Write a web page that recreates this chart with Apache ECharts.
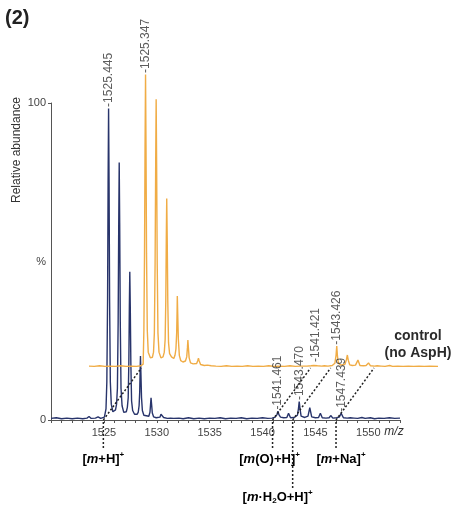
<!DOCTYPE html>
<html>
<head>
<meta charset="utf-8">
<script src="https://cdn.jsdelivr.net/npm/echarts@6/dist/echarts.min.js"></script>
<style>
  html, body { margin: 0; padding: 0; background: #fff; }
  #chart { width: 453px; height: 508px; }
</style>
</head>
<body>
<div id="chart"></div>
<script>
// Sample spectrum (AspH treated): [m/z, relative abundance %]
const sampleTrace = [
  [1520.0, 0.5], [1520.5, 0.7], [1521.0, 0.4], [1521.5, 0.6], [1522.0, 0.4], [1522.5, 0.6],
  [1523.0, 0.4], [1523.4, 0.6], [1523.6, 1.1], [1523.8, 0.5], [1524.2, 0.6], [1524.45, 1.0],
  [1524.7, 0.5], [1525.05, 0.9],
  [1525.2, 3.5], [1525.28, 12], [1525.35, 38], [1525.40, 75], [1525.445, 98.3], [1525.49, 75],
  [1525.54, 38], [1525.61, 12], [1525.7, 5], [1525.85, 2.6],
  [1526.1, 3.2], [1526.2, 5], [1526.28, 10], [1526.35, 31], [1526.405, 62], [1526.45, 81.2],
  [1526.495, 62], [1526.55, 31], [1526.62, 10], [1526.72, 4.5], [1526.88, 2.4],
  [1527.12, 2.6], [1527.22, 4], [1527.3, 7], [1527.36, 18], [1527.41, 36], [1527.45, 46.8],
  [1527.495, 36], [1527.55, 18], [1527.62, 6], [1527.72, 3], [1527.9, 1.8],
  [1528.15, 1.8], [1528.25, 2.5], [1528.33, 4.5], [1528.39, 9], [1528.43, 16], [1528.46, 20.2],
  [1528.5, 15], [1528.56, 7], [1528.64, 3], [1528.78, 1.5], [1528.95, 1.0],
  [1529.25, 1.2], [1529.36, 2.5], [1529.42, 5.2], [1529.46, 7.0], [1529.51, 5], [1529.58, 2.2],
  [1529.7, 1.0], [1529.95, 0.7],
  [1530.3, 0.9], [1530.4, 1.8], [1530.46, 2.4], [1530.53, 1.6], [1530.65, 0.8], [1531.0, 0.5],
  [1531.3, 0.6], [1531.46, 1.0], [1531.6, 0.5], [1532.1, 0.6], [1532.5, 0.4],
  [1533.0, 0.7], [1533.5, 0.4], [1534.0, 0.6], [1534.5, 0.4], [1535.0, 0.6], [1535.5, 0.5],
  [1536.0, 0.7], [1536.5, 0.4], [1537.0, 0.6], [1537.5, 0.5], [1538.0, 0.7], [1538.5, 0.4],
  [1539.0, 0.6], [1539.5, 0.5], [1540.0, 0.7], [1540.5, 0.5], [1540.9, 0.6],
  [1541.2, 0.9], [1541.38, 1.8], [1541.461, 2.8], [1541.55, 1.7], [1541.7, 0.9], [1542.0, 0.7],
  [1542.3, 0.8], [1542.46, 2.1], [1542.65, 0.7], [1543.0, 0.8],
  [1543.3, 1.5], [1543.40, 3.6], [1543.470, 5.8], [1543.55, 3.4], [1543.65, 1.2], [1544.0, 0.8],
  [1544.3, 1.2], [1544.47, 3.9], [1544.65, 1.0], [1545.0, 0.7],
  [1545.3, 0.8], [1545.47, 2.1], [1545.65, 0.7], [1546.0, 0.6],
  [1546.3, 0.7], [1546.45, 1.4], [1546.65, 0.6], [1547.0, 0.7],
  [1547.25, 0.9], [1547.439, 2.1], [1547.65, 0.7], [1548.0, 0.6],
  [1548.3, 0.7], [1548.44, 1.2], [1548.65, 0.6], [1549.0, 0.5],
  [1549.4, 0.8], [1549.7, 0.5], [1550.2, 0.7], [1550.6, 0.4], [1551.0, 0.6], [1551.5, 0.5],
  [1552.0, 0.7], [1552.5, 0.5], [1553.0, 0.6]
];

// Control spectrum (no AspH), drawn on its own offset axes
const controlTrace = [
  [1520.0, 0.6], [1520.5, 0.5], [1521.0, 0.7], [1521.5, 0.5], [1522.0, 0.6], [1522.5, 0.5],
  [1523.0, 0.7], [1523.5, 0.5], [1524.0, 0.6], [1524.5, 0.5], [1524.9, 0.7],
  [1525.12, 1.2], [1525.19, 12], [1525.25, 36], [1525.30, 70], [1525.347, 92.6], [1525.39, 70],
  [1525.44, 36], [1525.51, 12], [1525.6, 5], [1525.8, 3.2],
  [1526.0, 3.4], [1526.1, 5], [1526.18, 11], [1526.25, 33], [1526.305, 64], [1526.35, 84.8],
  [1526.395, 64], [1526.45, 33], [1526.52, 11], [1526.62, 5], [1526.8, 3.2],
  [1527.0, 3.5], [1527.12, 5], [1527.2, 9], [1527.26, 21], [1527.31, 41], [1527.35, 53.5],
  [1527.395, 41], [1527.45, 21], [1527.52, 8], [1527.62, 4.5], [1527.8, 3.5],
  [1528.02, 3.0], [1528.13, 4], [1528.22, 6], [1528.29, 11], [1528.33, 18], [1528.35, 22.7],
  [1528.39, 17], [1528.45, 9], [1528.54, 4], [1528.68, 2.3], [1528.88, 1.9],
  [1529.12, 2.2], [1529.24, 3.5], [1529.31, 6.5], [1529.35, 8.8], [1529.4, 6.3], [1529.47, 3.2],
  [1529.6, 1.6], [1529.85, 1.3],
  [1530.18, 1.4], [1530.28, 2.3], [1530.35, 3.1], [1530.42, 2.2], [1530.55, 1.1], [1530.9, 0.8],
  [1531.2, 0.9], [1531.35, 1.2], [1531.55, 0.7], [1532.0, 0.6], [1532.5, 0.5],
  [1533.0, 0.7], [1533.5, 0.5], [1534.0, 0.6], [1534.5, 0.5], [1535.0, 0.7], [1535.5, 0.5],
  [1536.0, 0.6], [1536.5, 0.5], [1537.0, 0.7], [1537.5, 0.5], [1538.0, 0.6], [1538.5, 0.5],
  [1539.0, 0.7], [1539.5, 0.5], [1540.0, 0.6], [1540.6, 0.6], [1541.0, 0.7],
  [1541.25, 0.8], [1541.421, 1.4], [1541.6, 0.7], [1542.0, 0.6],
  [1542.25, 0.7], [1542.42, 1.0], [1542.6, 0.6], [1543.0, 0.8],
  [1543.25, 1.5], [1543.36, 4.0], [1543.426, 6.9], [1543.49, 3.8], [1543.58, 1.5], [1543.8, 0.9],
  [1544.2, 1.2], [1544.34, 2.6], [1544.43, 4.1], [1544.52, 2.4], [1544.65, 1.0], [1544.9, 0.8],
  [1545.2, 0.9], [1545.43, 2.5], [1545.62, 0.8], [1545.95, 0.7],
  [1546.2, 0.8], [1546.43, 1.6], [1546.62, 0.7], [1547.0, 0.6],
  [1547.25, 0.7], [1547.43, 1.0], [1547.62, 0.6], [1548.0, 0.5],
  [1548.43, 0.8], [1548.7, 0.5], [1549.2, 0.6], [1549.7, 0.5], [1550.2, 0.6], [1550.7, 0.5],
  [1551.2, 0.6], [1551.7, 0.5], [1552.2, 0.6], [1553.0, 0.5]
];

// Peaks carrying an m/z label
const sampleLabelMz = [1525.445, 1541.461, 1543.470, 1547.439];
const controlLabelMz = [1525.347, 1541.421, 1543.426];

// Adduct positions marked with dotted connectors
const adductMz = [1524.95, 1540.95, 1542.85, 1546.95];
const adductText = [
  '{t|[}{i|m}{t|+H]}{sup|+}',
  '{t|[}{i|m}{t|(}{red|O}{t|)+H]}{sup|+}',
  '{t|[}{i|m}{t|·H}{sub|2}{t|O+H]}{sup|+}',
  '{t|[}{i|m}{t|+Na]}{sup|+}'
];

// Axis ranges and tick labels
const mzMin = 1520, mzMax = 1553, mzStep = 5;
const yLabelValues = [0, 50, 100];
const yLabelText = { 0: '0', 50: '%', 100: '100' };
const yTickValues = [0, 100];

const FONT = '"Liberation Sans", Arial, sans-serif';
const NAVY = '#28346b';
const ORANGE = '#f0ac45';

function pick(trace, mzList) {
  return mzList.map(mz => trace.find(p => p[0] === mz));
}

const peakLabel = {
  show: true,
  position: 'top',
  distance: 1,
  rotate: 90,
  align: 'left',
  verticalAlign: 'middle',
  fontFamily: FONT,
  fontSize: 12,
  color: '#333',
  formatter: p => '-' + p.value[0].toFixed(3)
};

const chart = echarts.init(document.getElementById('chart'), null, { renderer: 'canvas' });

chart.setOption({
  animation: false,
  backgroundColor: '#fff',
  grid: [
    { left: 51, top: 103, width: 349, height: 317 },
    { left: 89, top: 51, width: 349, height: 317 }
  ],
  xAxis: [
    {
      type: 'value', gridIndex: 0, min: mzMin, max: mzMax, interval: mzStep,
      axisLine: { lineStyle: { color: '#555', width: 1 } },
      axisTick: { show: true, length: 3, lineStyle: { color: '#555' } },
      minorTick: { show: true, splitNumber: 5, length: 3, lineStyle: { color: '#555' } },
      splitLine: { show: false },
      axisLabel: {
        showMinLabel: false, showMaxLabel: false, margin: 7,
        fontFamily: FONT, fontSize: 11, color: '#444',
        formatter: v => String(v)
      }
    },
    { type: 'value', gridIndex: 1, min: mzMin, max: mzMax, show: false }
  ],
  yAxis: [
    {
      type: 'value', gridIndex: 0, min: 0, max: 100,
      axisLine: { show: true, lineStyle: { color: '#555', width: 1 } },
      axisTick: { show: true, length: 3, customValues: yTickValues, lineStyle: { color: '#555' } },
      splitLine: { show: false },
      axisLabel: {
        customValues: yLabelValues, margin: 5,
        fontFamily: FONT, fontSize: 11, color: '#444',
        formatter: v => yLabelText[v]
      }
    },
    { type: 'value', gridIndex: 1, min: 0, max: 100, show: false }
  ],
  series: [
    {
      name: 'sample', type: 'line', xAxisIndex: 0, yAxisIndex: 0,
      data: sampleTrace, showSymbol: false, symbol: 'none',
      lineStyle: { color: NAVY, width: 1.4 }, z: 2
    },
    {
      name: 'control', type: 'line', xAxisIndex: 1, yAxisIndex: 1,
      data: controlTrace, showSymbol: false, symbol: 'none',
      lineStyle: { color: ORANGE, width: 1.4 }, z: 3
    },
    {
      name: 'sample peaks', type: 'scatter', xAxisIndex: 0, yAxisIndex: 0,
      data: pick(sampleTrace, sampleLabelMz), symbolSize: 1,
      itemStyle: { color: 'rgba(0,0,0,0)' }, label: peakLabel, z: 4, silent: true
    },
    {
      name: 'control peaks', type: 'scatter', xAxisIndex: 1, yAxisIndex: 1,
      data: pick(controlTrace, controlLabelMz), symbolSize: 1,
      itemStyle: { color: 'rgba(0,0,0,0)' }, label: peakLabel, z: 4, silent: true
    }
  ]
});

// Connectors and annotation text, positioned through the axes
const dotted = { stroke: '#222', lineWidth: 1.5, lineDash: [2, 2] };
const annotLayout = [
  { dropTo: 448, dx: 0, y: 459 },
  { dropTo: 448, dx: -3, y: 459 },
  { dropTo: 488, dx: -15, y: 497 },
  { dropTo: 448, dx: 5, y: 459 }
];
const rich = {
  t: { fontFamily: FONT, fontSize: 13, fontWeight: 'bold', color: '#2b2b2b', lineHeight: 16 },
  i: { fontFamily: FONT, fontSize: 13, fontWeight: 'bold', fontStyle: 'italic', color: '#2b2b2b', lineHeight: 16 },
  red: { fontFamily: FONT, fontSize: 13, fontWeight: 'bold', color: '#c1272d', lineHeight: 16 },
  sup: { fontFamily: FONT, fontSize: 8, fontWeight: 'bold', color: '#2b2b2b', verticalAlign: 'top' },
  sub: { fontFamily: FONT, fontSize: 8, fontWeight: 'bold', color: '#2b2b2b', verticalAlign: 'bottom' }
};

const graphics = [];
adductMz.forEach((mz, k) => {
  const a = chart.convertToPixel({ gridIndex: 0 }, [mz, 0]);
  const b = chart.convertToPixel({ gridIndex: 1 }, [mz, 0]);
  const L = annotLayout[k];
  graphics.push({ type: 'line', z: 10, shape: { x1: a[0], y1: a[1], x2: b[0], y2: b[1] }, style: dotted });
  graphics.push({ type: 'line', z: 10, shape: { x1: a[0], y1: a[1] + 2, x2: a[0], y2: L.dropTo }, style: dotted });
  graphics.push({
    type: 'text', z: 10, x: a[0] + L.dx, y: L.y,
    style: { text: adductText[k], rich: rich, align: 'center', verticalAlign: 'middle' }
  });
});

graphics.push(
  { type: 'text', x: 5, y: 8, style: { text: '(2)', fontFamily: FONT, fontSize: 20, fontWeight: 'bold', fill: '#222' } },
  {
    type: 'text', x: 17, y: 150, rotation: Math.PI / 2,
    style: { text: 'Relative abundance', fontFamily: FONT, fontSize: 12, fill: '#333', align: 'center', verticalAlign: 'middle' }
  },
  {
    type: 'text', x: 394, y: 432,
    style: { text: 'm/z', fontFamily: FONT, fontSize: 12, fontStyle: 'italic', fill: '#333', align: 'center', verticalAlign: 'middle' }
  },
  {
    type: 'text', x: 418, y: 345,
    style: {
      text: 'control\n(no AspH)', fontFamily: FONT, fontSize: 14, fontWeight: 'bold', fill: '#2b2b2b',
      align: 'center', verticalAlign: 'middle', lineHeight: 17
    }
  }
);

chart.setOption({ graphic: graphics });
</script>
</body>
</html>
